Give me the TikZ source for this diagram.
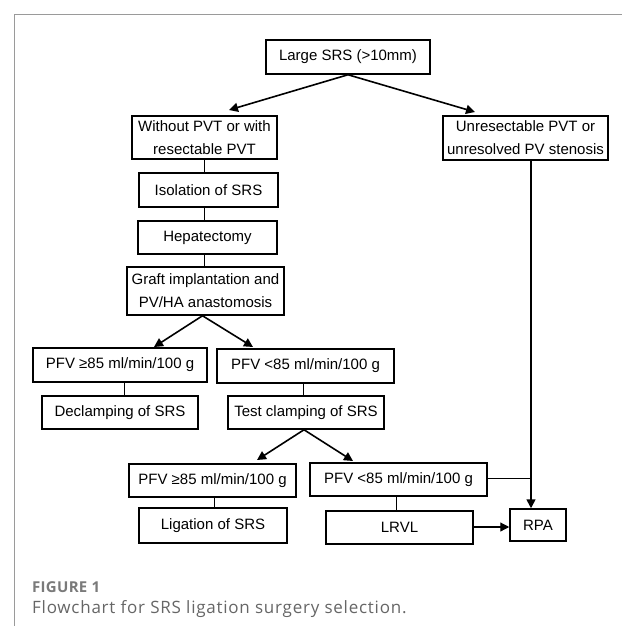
\documentclass[tikz,border=0pt]{standalone}
\usepackage{fontspec}
\setmainfont{Liberation Sans}
\newfontfamily\figfont[LetterSpace=2]{Open Sans}
\newfontfamily\capfontsp[LetterSpace=4.5]{Open Sans}
\usetikzlibrary{arrows.meta}
\definecolor{framegray}{HTML}{9A9A9A}
\definecolor{capgray}{HTML}{666666}
\definecolor{figgray}{HTML}{7A7A7A}
\begin{document}
\begin{tikzpicture}[x=1pt,y=-1pt,
  box/.style={draw=black, line width=1.5pt, inner sep=0pt, align=center,
    font=\fontsize{15}{23}\selectfont},
  arr/.style={line width=1.6pt, -{Triangle[length=9pt,width=9pt]}},
  link/.style={line width=1pt},
  vline/.style={line width=1.5pt}]
\useasboundingbox (0,0) rectangle (622,626);
\fill[white] (0,0) rectangle (622,626);
\draw[framegray, line width=1pt] (14,626) -- (14,15) -- (622,15);

\node[box, minimum width=164pt, minimum height=34pt] (top) at (348,57) {Large SRS (>10mm)};
\node[box, minimum width=145pt, minimum height=43pt] (without) at (204.5,137.5) {Without PVT or with\\resectable PVT};
\node[box, minimum width=165pt, minimum height=44pt] (unres) at (525.5,138) {Unresectable PVT or\\unresolved PV stenosis};
\node[box, minimum width=139pt, minimum height=34pt] (isol) at (208.5,190) {Isolation of SRS};
\node[box, minimum width=139pt, minimum height=33pt] (hepat) at (207.5,237.5) {Hepatectomy};
\node[box, minimum width=157pt, minimum height=48pt] (graft) at (205.5,291) {Graft implantation and\\PV/HA anastomosis};
\node[box, minimum width=174pt, minimum height=34pt] (pfvgea) at (120,365) {PFV ≥85 ml/min/100 g};
\node[box, minimum width=177pt, minimum height=34pt] (pfvlta) at (305.5,366) {PFV <85 ml/min/100 g};
\node[box, minimum width=156pt, minimum height=33pt] (declamp) at (120,412.5) {Declamping of SRS};
\node[box, minimum width=156pt, minimum height=33pt] (test) at (306,412.5) {Test clamping of SRS};
\node[box, minimum width=167pt, minimum height=33pt] (pfvgeb) at (212.5,480.5) {PFV ≥85 ml/min/100 g};
\node[box, minimum width=177pt, minimum height=33pt] (pfvltb) at (398.5,479.5) {PFV <85 ml/min/100 g};
\node[box, minimum width=148pt, minimum height=35pt] (ligation) at (213,525.5) {Ligation of SRS};
\node[box, minimum width=147pt, minimum height=33pt] (lrvl) at (399.5,527.5) {LRVL};
\node[box, minimum width=56pt, minimum height=32pt] (rpa) at (538,525) {RPA};

\coordinate (tipa) at (229,110);
\coordinate (tipb) at (475,112);
\coordinate (tipc) at (154,347);
\coordinate (tipd) at (253,347);
\coordinate (tipe) at (257,460);
\coordinate (tipf) at (353,461);
\coordinate (j) at (531,478);

\draw[arr] (top.south) -- (tipa);
\draw[arr] (top.south) -- (tipb);
\draw[arr] ([xshift=-3pt]graft.south) -- (tipc);
\draw[arr] ([xshift=-3pt]graft.south) -- (tipd);
\draw[arr] ([xshift=-2pt]test.south) -- (tipe);
\draw[arr] ([xshift=-2pt]test.south) -- (tipf);

\draw[link] (without.south) -- (without.south |- isol.north);
\draw[link] (without.south |- isol.south) -- (without.south |- hepat.north);
\draw[link] (without.south |- hepat.south) -- (without.south |- graft.north);
\draw[link] ([xshift=4pt]pfvgea.south) -- ([xshift=4pt]pfvgea.south |- declamp.north);
\draw[link] ([xshift=-2.5pt]pfvlta.south) -- ([xshift=-2.5pt]pfvlta.south |- test.north);
\draw[link] ([xshift=1.5pt]pfvgeb.south) -- ([xshift=1.5pt]pfvgeb.south |- ligation.north);
\draw[link] ([xshift=-2.5pt]pfvltb.south) -- ([xshift=-2.5pt]pfvltb.south |- lrvl.north);

\draw[vline] (j |- unres.south) -- (j);
\draw[arr] (j) -- (j |- rpa.north);
\draw[link] (pfvltb.east |- j) -- (j);
\draw[arr, line width=1.2pt] (lrvl.east |- 0,527) -- (rpa.west |- 0,527);

\node[anchor=west, inner sep=0pt, text=figgray, font=\figfont\bfseries\fontsize{15}{18}\selectfont] (fig) at (32,587) {FIGURE 1};
\node[anchor=west, inner sep=0pt, text=capgray, font=\capfontsp\fontsize{17}{20}\selectfont] (cap) at (32,609) {Flowchart for SRS ligation surgery selection.};
\end{tikzpicture}
\end{document}
